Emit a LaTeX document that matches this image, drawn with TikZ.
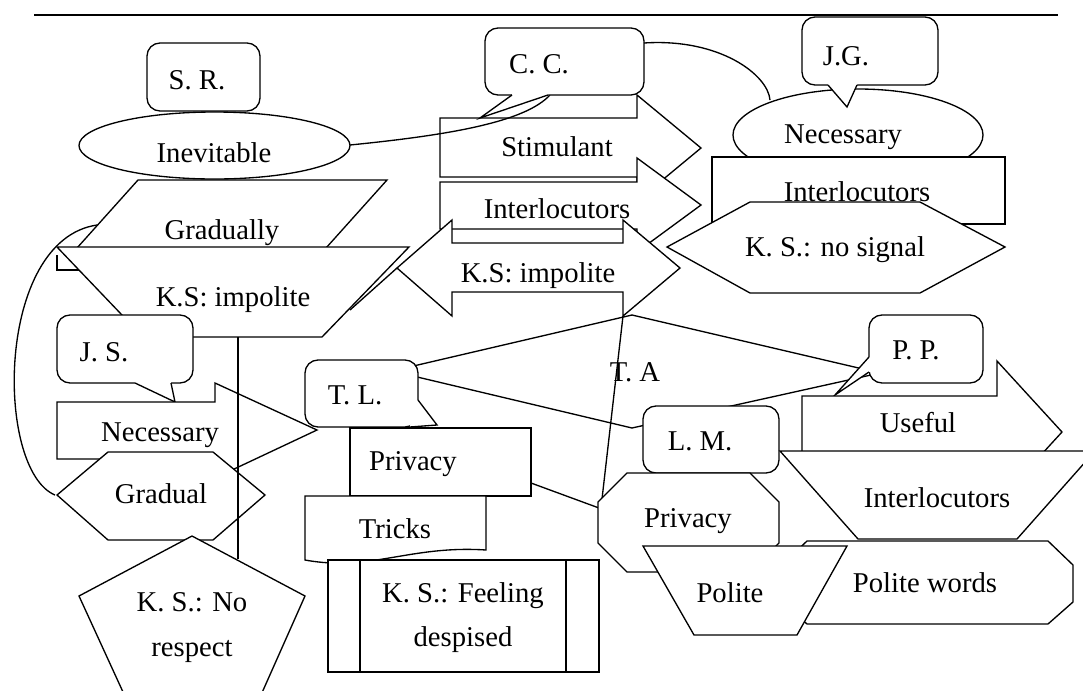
\documentclass[tikz,border=0pt]{standalone}
\usepackage{fontspec}
\setmainfont{Liberation Serif}
\tikzset{
 shp/.style={draw=black, fill=white, line width=1pt, line join=miter},
 ln/.style={draw=black, line width=1pt},
 rbox/.style={shp, rounded corners=9.75pt},
 lbl/.style={inner sep=0pt, text height=14.2pt, text depth=0pt, font=\fontsize{21.5}{26}\selectfont},
}
\begin{document}
\begin{tikzpicture}[x=0.75pt,y=-0.75pt]
\useasboundingbox (0,0) rectangle (1083,690);
\clip (0,0) rectangle (1083,690);
\draw[ln] (34,15) -- (1058,15);
% left curve
\draw[ln] (55,495) .. controls (-5,470) and (-5,240) .. (97,225);
\draw[ln] (57,255) -- (57,270) -- (79,270);
% S.R. and Inevitable
\draw[rbox] (147,43) rectangle (260,111);
\node[lbl] (sr) at (197,80) {S. R.};
\draw[shp] (214.5,145.5) ellipse [x radius=135.5, y radius=33.5];
\node[lbl] (inev) at (214,153) {Inevitable};
\draw[shp] (138,180) -- (387,180) -- (326,248) -- (77,248) -- cycle;
\node[lbl] (grad) at (222,230) {Gradually};
\draw[shp] (57,247) -- (409,247) -- (322,337) -- (143,337) -- cycle;
\node[lbl] (ksi1) at (233,297) {K.S: impolite};
% J.S.
\draw[rbox] (57,315) rectangle (193,383);
\fill[white] (135,380) -- (135,383) -- (175,402) -- (171,383) -- (171,380) -- cycle;
\draw[ln] (135,383) -- (175,402) -- (171,383);
\node[lbl] (js) at (104,352) {J. S.};
% Necessary arrow
\draw[shp] (57,402) -- (215,402) -- (215,383) -- (317,430) -- (215,478) -- (215,459) -- (57,459) -- cycle;
\node[lbl] (nec1) at (160,432) {Necessary};
\draw[shp] (57,495) -- (108,452) -- (213,452) -- (265,495) -- (213,540) -- (108,540) -- cycle;
\node[lbl] (gradual) at (161,494.5) {Gradual};
\draw[shp] (192,536) -- (305,596) -- (241,740) -- (145,740) -- (79,596) -- cycle;
\node[lbl] (ksno) at (192,602) {K. S.: No};
\node[lbl] (resp) at (192,647.5) {respect};
\draw[ln] (238,337) -- (238,559);
% top arrows
\draw[shp] (440,118) -- (637,118) -- (637,95) -- (701,148) -- (637,201) -- (637,177) -- (440,177) -- cycle;
\node[lbl] (stim) at (557,147.5) {Stimulant};
\draw[shp] (440,182) -- (637,182) -- (637,158) -- (701,205) -- (637,252) -- (637,229) -- (440,229) -- cycle;
\node[lbl] (int1) at (557,209.5) {Interlocutors};
\draw[shp] (397,268) -- (452,220) -- (452,243) -- (623,243) -- (623,220) -- (680,268) -- (623,316) -- (623,292) -- (452,292) -- (452,316) -- cycle;
\node[lbl] (ksi2) at (538,273.5) {K.S: impolite};
\draw[ln] (397,268) -- (350,310);
\draw[ln] (350,145) .. controls (450,135) and (525,122) .. (550,95);
% C.C.
\draw[rbox] (485,28) rectangle (644,95);
\fill[white] (512,92) -- (512,95) -- (480,118) -- (548,95) -- (548,92) -- cycle;
\draw[ln] (512,95) -- (480,118) -- (548,95);
\node[lbl] (cc) at (539,64.5) {C. C.};
\draw[ln] (644,43) .. controls (720,38) and (768,75) .. (770,100);
% right top
\draw[shp] (858,135) ellipse [x radius=125, y radius=46];
\node[lbl] (nec2) at (843,134.5) {Necessary};
\draw[rbox] (802,17) rectangle (938,85);
\fill[white] (828,82) -- (828,85) -- (847,107) -- (857,85) -- (857,82) -- cycle;
\draw[ln] (828,85) -- (847,107) -- (857,85);
\node[lbl] (jg) at (846,56) {J.G.};
\draw[shp] (712,157) rectangle (1005,224);
\node[lbl] (int2) at (857,192) {Interlocutors};
\draw[shp] (667,247) -- (750,202) -- (920,202) -- (1005,247) -- (920,293) -- (750,293) -- cycle;
\node[lbl] (ksns) at (835,247) {K. S.: no signal};
% diamond
\draw[shp] (632,315) -- (880,373) -- (632,428) -- (392,371) -- cycle;
\node[lbl] (ta) at (635,372) {T. A};
\draw[ln] (623,316) -- (602,499);
% T.L.
\draw[rbox] (305,360) rectangle (418,427);
\fill[white] (416,400) -- (418,400) -- (437,425) -- (410,427) -- (410,425) -- (416,418) -- cycle;
\draw[ln] (418,400) -- (437,425) -- (410,427);
\node[lbl] (tl) at (355,395) {T. L.};
\draw[shp] (350,428) rectangle (531,496);
\node[lbl] (priv1) at (413,461.5) {Privacy};
\draw[shp] (305,496) -- (486,496) -- (486,550) .. controls (410,545) and (370,572) .. (305,560) -- cycle;
\node[lbl] (tricks) at (395,529.5) {Tricks};
\draw[shp] (328,560) rectangle (599,672);
\draw[ln] (360,560) -- (360,672) (566,560) -- (566,672);
\node[lbl] (ksf1) at (463,593.5) {K. S.: Feeling};
\node[lbl] (ksf2) at (463,637.5) {despised};
\draw[ln] (531,483) -- (599,508);
% L.M. and octagon
\draw[rbox] (643,406) rectangle (779,473);
\node[lbl] (lm) at (700,441) {L. M.};
\draw[shp] (627,473) -- (750,473) -- (779,502) -- (779,543) -- (750,572) -- (627,572) -- (598,543) -- (598,502) -- cycle;
\node[lbl] (priv2) at (688,518) {Privacy};
% P.P.
\draw[rbox] (869,315) rectangle (983,383);
\fill[white] (872,357) -- (869,357) -- (835,395) -- (869,372) -- (872,372) -- cycle;
\draw[ln] (869,357) -- (835,395) -- (869,372);
\node[lbl] (pp) at (916,350.5) {P. P.};
\draw[shp] (802,396) -- (997,396) -- (997,361) -- (1062,432) -- (997,503) -- (997,468) -- (802,468) -- cycle;
\node[lbl] (useful) at (918,423.5) {Useful};
\draw[shp] (780,451) -- (1095,451) -- (1017,539) -- (858,539) -- cycle;
\node[lbl] (int3) at (937,498) {Interlocutors};
\draw[shp] (807,541) -- (1048,541) -- (1073,565) -- (1073,602) -- (1048,624) -- (807,624) -- (782,602) -- (782,565) -- cycle;
\node[lbl] (pw) at (925,583) {Polite words};
\draw[shp] (643,546) -- (847,546) -- (797,635) -- (694,635) -- cycle;
\node[lbl] (polite) at (730,593) {Polite};
\end{tikzpicture}
\end{document}
